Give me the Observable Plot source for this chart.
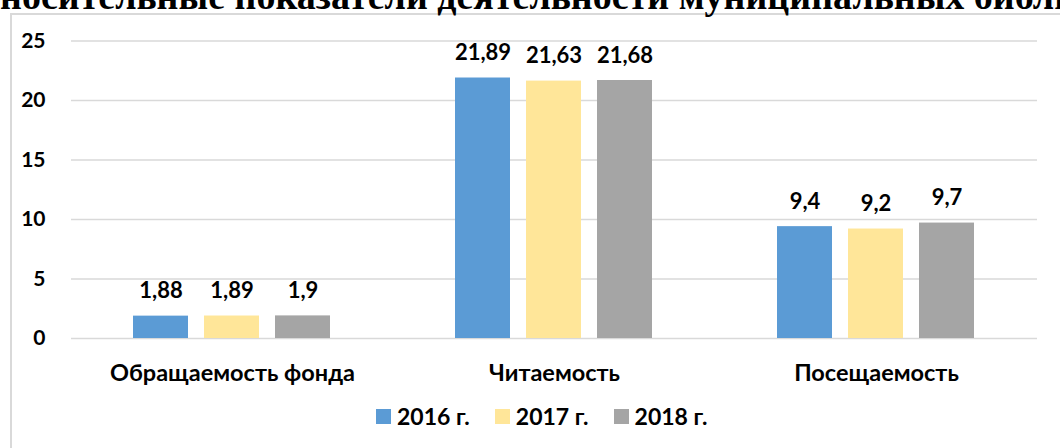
<!DOCTYPE html>
<html>
<head>
<meta charset="utf-8">
<script src="https://cdn.jsdelivr.net/npm/d3@7"></script>
<script src="https://cdn.jsdelivr.net/npm/@observablehq/plot@0.6"></script>
<style>
  html, body { margin: 0; padding: 0; width: 1060px; height: 448px; overflow: hidden; background: #fff; }
  #frame { position: absolute; left: 10px; top: 13px; width: 1100px; height: 500px; border-left: 2px solid #d9d9d9; border-top: 2px solid #d9d9d9; box-sizing: border-box; }
  #title { position: absolute; left: 0; top: -23px; white-space: nowrap; font-family: "Liberation Serif", serif; font-weight: bold; font-size: 38px; line-height: 38px; color: #000; }
  #title .pre { position: absolute; right: 100%; }
  #chart { position: absolute; left: 0; top: 0; }
  #legend { position: absolute; left: 376px; top: 404px; display: flex; align-items: center; font-family: Lato, sans-serif; font-weight: bold; font-size: 23px; color: #000; line-height: 24px; }
  #legend .item { display: flex; align-items: center; margin-right: 25px; }
  #legend .sw { width: 15px; height: 15px; margin-right: 6px; }
</style>
</head>
<body>
<div id="frame"></div>
<div id="chart"></div>
<div id="legend"></div>
<div id="title"><span class="pre">От</span>носительные показатели деятельности муниципальных библиотек</div>
<script>
const categories = ["Обращаемость фонда", "Читаемость", "Посещаемость"];
const years = ["2016 г.", "2017 г.", "2018 г."];
const colors = ["#5B9BD5", "#FFE699", "#A5A5A5"];
const values2016 = [1.88, 21.89, 9.4];
const values2017 = [1.89, 21.63, 9.2];
const values2018 = [1.9, 21.68, 9.7];
const yTicks = [0, 5, 10, 15, 20, 25];

const series = [values2016, values2017, values2018];
const data = [];
categories.forEach((c, i) => {
  years.forEach((y, j) => data.push({cat: c, year: y, value: series[j][i]}));
});
const fmt = v => String(v).replace(".", ",");

const chart = Plot.plot({
  width: 1060,
  height: 395,
  marginLeft: 70,
  marginRight: 22,
  marginTop: 40.5,
  marginBottom: 57,
  style: {fontFamily: "Lato, sans-serif", fontWeight: "bold", fontSize: "20px", color: "#000"},
  fx: {domain: categories, padding: 0, label: null},
  x: {domain: years, paddingInner: 0.2222, paddingOuter: 0.852, axis: null},
  y: {domain: [0, 25], ticks: yTicks, label: null},
  color: {domain: years, range: colors},
  marks: [
    Plot.gridY(yTicks, {stroke: "#d9d9d9", strokeOpacity: 1, strokeWidth: 1.5}),
    Plot.axisY(yTicks, {tickSize: 0, tickPadding: 26, fontSize: 21, fontWeight: "bold", fill: "#000", label: null}),
    Plot.axisFx({anchor: "bottom", tickSize: 0, tickPadding: 26, fontSize: 23.5, fontWeight: "bold", fill: "#000", label: null}),
    Plot.barY(data, {fx: "cat", x: "year", y: "value", fill: "year"}),
    Plot.text(data, {fx: "cat", x: "year", y: "value", text: d => fmt(d.value), dy: -25, fontSize: 22, fontWeight: "bold", fill: "#000"})
  ]
});
document.getElementById("chart").appendChild(chart);

const legend = document.getElementById("legend");
years.forEach((y, i) => {
  const item = document.createElement("div");
  item.className = "item";
  const sw = document.createElement("div");
  sw.className = "sw";
  sw.style.background = colors[i];
  const t = document.createElement("span");
  t.textContent = y;
  item.appendChild(sw);
  item.appendChild(t);
  legend.appendChild(item);
});
</script>
</body>
</html>
